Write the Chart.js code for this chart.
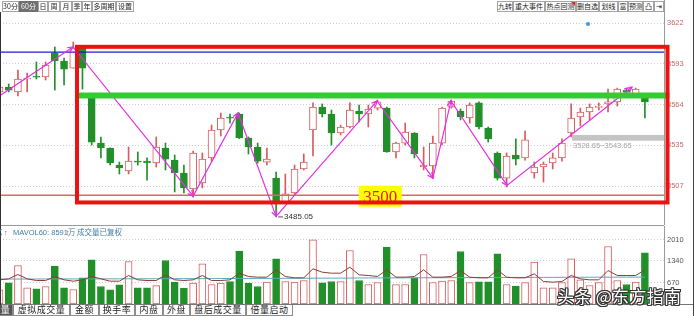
<!DOCTYPE html>
<html lang="zh-CN">
<head>
<meta charset="utf-8">
<title>60分 K线</title>
<script src="https://cdn.jsdelivr.net/npm/chart.js@4.4.1/dist/chart.umd.min.js"></script>
<style>
  html, body { margin:0; padding:0; background:#fff; }
  #stage { position:relative; width:695px; height:316px; overflow:hidden; background:#fff;
           font-family:"Noto Sans CJK SC","Liberation Sans",sans-serif; }
  #stage canvas { position:absolute; left:0; }
  #price { top:0; }
  #vol { top:226px; }
  .btn { position:absolute; top:1px; height:11px; box-sizing:border-box; border:1px solid #a3a3a3;
         background:#fff; color:#222; font-size:7px; line-height:9px; text-align:center;
         white-space:nowrap; overflow:hidden; }
  .btn.on { background:#707070; color:#fff; border-color:#707070; }
  .corner { position:absolute; top:0; right:0; width:0; height:0;
            border-top:4px solid #d22; border-left:4px solid transparent; }
  .tab { position:absolute; top:305px; height:11px; box-sizing:border-box; border:1px solid #8c8c8c;
         border-top:none; background:#fff; color:#222; font-size:9px; line-height:10px;
         text-align:center; letter-spacing:0.5px; white-space:nowrap; overflow:hidden; }
  .tab.on { background:#555; color:#fff; }
  .hline { position:absolute; height:1px; background:#9a9a9a; }
  .vline { position:absolute; width:1px; background:#9a9a9a; }
  #volhead { position:absolute; top:228px; left:0; height:10px; font-size:7.5px; line-height:10px;
             white-space:nowrap; font-family:"Liberation Sans","Noto Sans CJK SC",sans-serif; }
  #volhead span { position:absolute; top:0; }
  #mark { position:absolute; left:557px; top:286px; font-size:17px; line-height:20px; color:#fff;
          white-space:nowrap; letter-spacing:0.3px;
          text-shadow:1px 0 0 #333,-1px 0 0 #333,0 1px 0 #333,0 -1px 0 #333,
                      1px 1px 0 #333,-1px -1px 0 #333,1px -1px 0 #333,-1px 1px 0 #333; }
</style>
</head>
<body>
<div id="stage">
  <canvas id="price" width="695" height="225"></canvas>
  <canvas id="vol" width="695" height="78"></canvas>
  <div class="hline" style="left:0;top:225px;width:664px;"></div>
  <div class="hline" style="left:0;top:304px;width:694px;background:#777;"></div>
  <div class="vline" style="left:0;top:12px;height:293px;background:#333;"></div>
  <div class="vline" style="left:693px;top:0;height:316px;background:#444;"></div>
  <div id="toolbar"></div>
  <div id="volhead">
    <span style="left:-5px;color:#3f7fa8;">亿</span>
    <span style="left:4px;color:#e03030;">↑</span>
    <span style="left:13px;color:#3f7fa8;">MAVOL60: 8591万</span>
    <span style="left:66px;color:#e03030;">↑</span>
    <span style="left:77px;color:#3f7fa8;">成交量已复权</span>
  </div>
  <div id="tabs"></div>
  <div id="mark">头条 @东方指南</div>
</div>
<script>
// ---- 60-minute bars: open / high / low / close ----
const opens  = [3572.8,3576.3,3572.8,3582.0,3583.6,3583.4,3600.3,3594.7,3589.7,3603.9,
                3568.6,3536.8,3533.3,3521.3,3517.1,3523.6,3524.1,3522.7,3533.3,3524.8,
                3515.7,3504.4,3508.6,3526.3,3546.0,3554.7,3557.3,3540.4,3534.0,3523.4,
                3512.1,3495.2,3501.6,3518.5,3546.0,3562.2,3557.3,3543.9,3548.1,3559.4,
                3557.3,3561.5,3561.5,3530.5,3536.8,3543.9,3519.9,3520.6,3536.8,3562.2,
                3559.4,3554.5,3565.1,3547.4,3529.8,3512.1,3528.4,3526.3,3515.7,3519.9,
                3522.7,3526.3,3543.9,3555.2,3558.7,3562.0,3564.4,3565.8,3574.2,3571.4,
                3568.6];
const highs  = [3577.8,3578.5,3588.3,3586.2,3594.0,3594.0,3604.6,3596.8,3608.1,3604.2,
                3568.9,3541.1,3533.5,3523.4,3534.0,3530.5,3526.3,3541.1,3536.8,3528.4,
                3521.3,3531.2,3529.8,3549.5,3558.0,3557.3,3558.0,3541.1,3536.8,3533.3,
                3516.4,3515.0,3521.3,3529.1,3565.1,3564.4,3560.1,3549.5,3565.1,3563.6,
                3563.6,3567.2,3562.2,3537.5,3550.9,3544.2,3534.0,3541.8,3562.2,3567.2,
                3560.8,3565.1,3565.8,3548.1,3530.5,3529.8,3539.7,3545.3,3523.4,3523.4,
                3529.8,3539.7,3564.4,3561.5,3564.4,3565.1,3574.9,3575.6,3575.6,3575.6,
                3568.6];
const lows   = [3571.4,3572.8,3570.0,3572.8,3582.0,3581.3,3574.2,3577.8,3589.7,3574.9,
                3535.4,3526.3,3521.3,3515.0,3515.0,3521.3,3510.7,3519.9,3517.8,3502.3,
                3501.6,3498.7,3505.1,3524.1,3541.8,3550.9,3540.0,3529.1,3522.7,3521.3,
                3485.05,3494.5,3500.9,3517.8,3527.7,3555.2,3535.4,3542.5,3547.4,3551.7,
                3548.1,3560.1,3530.3,3526.3,3535.4,3526.3,3517.8,3512.1,3535.4,3561.5,
                3553.1,3550.9,3546.7,3537.5,3510.7,3505.8,3521.3,3524.8,3512.1,3509.3,
                3518.5,3524.1,3541.1,3548.8,3553.1,3560.1,3558.7,3562.9,3570.7,3569.3,
                3554.5];
const closes = [3576.3,3574.2,3582.0,3582.7,3583.2,3591.9,3594.7,3589.0,3603.9,3589.7,
                3537.5,3533.3,3522.7,3519.2,3524.1,3523.4,3522.7,3534.0,3525.5,3515.7,
                3505.1,3529.8,3525.5,3546.0,3554.5,3554.4,3540.4,3534.0,3524.1,3525.5,
                3495.2,3500.9,3518.5,3523.4,3562.2,3557.3,3543.9,3548.1,3560.1,3557.3,
                3560.8,3565.8,3530.5,3536.8,3544.6,3529.1,3521.3,3536.8,3561.5,3566.5,
                3555.2,3563.6,3548.1,3539.7,3512.1,3527.7,3525.5,3539.0,3519.9,3522.0,
                3526.3,3536.8,3554.5,3558.7,3562.2,3562.4,3565.8,3574.9,3572.8,3574.9,
                3565.8];

// ---- volume panel ----
const volumes = [442,660,1200,505,473,545,1178,505,452,816,
                 1377,545,442,598,1324,505,505,570,1355,680,
                 493,649,1252,608,649,701,1646,649,545,680,
                 1408,701,680,732,2000,660,701,701,1667,732,
                 608,670,1770,608,608,816,1542,670,711,732,
                 1636,670,690,690,1564,608,555,670,1303,505,
                 505,670,1408,754,577,670,1792,732,608,680,
                 1595];
const volMa   = [753,784,918,784,732,732,857,753,711,753,
                 857,784,711,711,888,753,732,732,908,753,
                 732,753,888,732,732,753,960,857,836,836,
                 1064,857,815,815,1096,991,960,960,1147,908,
                 888,857,1064,836,836,857,1064,836,836,857,
                 1043,836,815,815,1064,836,815,815,940,701,
                 680,701,888,784,753,753,1043,888,888,888,
                 1064];
const volMa60 = [776,776,777,777,778,779,779,780,781,781,
                 782,783,783,784,785,786,786,787,788,789,
                 790,790,791,792,793,794,795,796,797,798,
                 799,800,801,802,804,805,806,807,809,810,
                 811,812,813,814,815,816,817,818,819,820,
                 821,822,823,824,825,826,827,828,829,830,
                 830,831,832,833,834,835,835,836,837,837,
                 838];

// ---- axes ----
const priceTicks = [3506.5, 3535.25, 3564, 3592.75, 3621.5];
const volTicks   = [670, 1340, 2010];

// ---- drawn levels and swing path ----
const supportLevel = 3500;      // red level line and yellow tag
const pressureLevel = 3570.35;  // thick green line
const topLevel = 3601;          // blue line
const boxRange = { from: 8.405, to: 72.45, top: 3604.7, bottom: 3494.9 };
const zoneRange = { from: 62.1, low: 3538.5, high: 3542.5, text: '3528.65~3543.65', textAt: 3535.1 };
const swingIdx   = [0, 7.97, 21.0, 25.87, 30.0, 40.94, 47.0, 48.97, 55.04, 68.6];
const swingPrice = [3570.1, 3604.6, 3499.4, 3558.0, 3485.05, 3566.5, 3512.1, 3566.5, 3506.9, 3576.3];
const markerDot = { idx: 63.83, price: 3620.8 };

const GREEN = '#22902a', RED = '#d65c5c';
const up = closes.map((c, i) => c >= opens[i]);

// toolbar and tab row
const leftBtns  = [['30分',2,17],['60分',19,19,1],['日',38,10],['周',48,12],['月',60,12],['季',72,10],
                   ['年',82,10],['多周期',92,24],['设置',116,18]];
const rightBtns = [['九转',497,16],['重大事件',513,32],['热点回测',545,31,0,1],['删自选',576,23],
                   ['划线',599,19],['富',618,10],['预测',628,15],['凸',643,11],['⇥',654,10]];
const tabs = [['量',-2,15,1],['虚拟成交量',13,57],['金额',70,29],['换手率',99,36],['内盘',135,28],
              ['外盘',163,27],['盘后成交量',190,56],['倍量启动',246,47]];
const tb = document.getElementById('toolbar');
[...leftBtns, ...rightBtns].forEach(([t, l, w, on, corner]) => {
  const d = document.createElement('div');
  d.className = 'btn' + (on ? ' on' : '');
  d.style.left = l + 'px'; d.style.width = w + 'px'; d.textContent = t;
  if (corner) { const c = document.createElement('div'); c.className = 'corner'; d.appendChild(c); }
  tb.appendChild(d);
});
const tbar = document.getElementById('tabs');
tabs.forEach(([t, l, w, on]) => {
  const d = document.createElement('div');
  d.className = 'tab' + (on ? ' on' : '');
  d.style.left = l + 'px'; d.style.width = w + 'px'; d.textContent = t;
  tbar.appendChild(d);
});

const X_MIN = 0.054, X_MAX = 72.07;

function sideAxis(ticksList, fmt, color, min, max) {
  return {
    position: 'right', min, max,
    afterFit(s) { s.width = 31; s.paddingTop = 0; s.paddingBottom = 0; },
    afterBuildTicks(s) { s.ticks = ticksList.map(v => ({ value: v })); },
    ticks: { callback: fmt, color, padding: 3, font: { size: 7.5, family: 'Liberation Sans' } },
    grid: { color: '#cdcdcd', drawTicks: false, lineWidth: 1 },
    border: { display: true, color: '#9a9a9a', dash: [1, 2] }
  };
}

function arrowHead(ctx, x0, y0, x1, y1, len) {
  const a = Math.atan2(y1 - y0, x1 - x0), s = 0.45;
  ctx.beginPath();
  ctx.moveTo(x1 - len * Math.cos(a - s), y1 - len * Math.sin(a - s));
  ctx.lineTo(x1, y1);
  ctx.lineTo(x1 - len * Math.cos(a + s), y1 - len * Math.sin(a + s));
  ctx.stroke();
}

const priceOverlay = {
  id: 'priceOverlay',
  afterDraw(chart) {
    const { ctx, chartArea: a, scales: { x, y } } = chart;
    const X = v => x.getPixelForValue(v), Y = v => y.getPixelForValue(v);
    ctx.save();
    ctx.beginPath(); ctx.rect(a.left, a.top, a.right - a.left, a.bottom - a.top); ctx.clip();

    // blue top line and red 3500 line
    ctx.lineWidth = 1.3; ctx.strokeStyle = '#1c1cc8';
    ctx.beginPath(); ctx.moveTo(a.left, Y(topLevel)); ctx.lineTo(a.right, Y(topLevel)); ctx.stroke();
    ctx.lineWidth = 1.5; ctx.strokeStyle = '#e06464';
    ctx.beginPath(); ctx.moveTo(a.left, Y(supportLevel)); ctx.lineTo(a.right, Y(supportLevel)); ctx.stroke();

    // grey zone with its range text
    ctx.fillStyle = '#c4c4c4';
    ctx.fillRect(X(zoneRange.from), Y(zoneRange.high), a.right - X(zoneRange.from), Y(zoneRange.low) - Y(zoneRange.high));
    ctx.fillStyle = '#a8a8a8'; ctx.font = '7.5px "Liberation Sans"'; ctx.textBaseline = 'middle';
    ctx.fillText(zoneRange.text, X(zoneRange.from) + 1, Y(zoneRange.textAt));

    // swing path with arrow heads
    ctx.strokeStyle = '#e52ee5'; ctx.lineWidth = 1.2;
    ctx.beginPath();
    swingIdx.forEach((v, i) => { const px = X(v), py = Y(swingPrice[i]); i ? ctx.lineTo(px, py) : ctx.moveTo(px, py); });
    ctx.stroke();
    for (let i = 1; i < swingIdx.length; i++) {
      arrowHead(ctx, X(swingIdx[i - 1]), Y(swingPrice[i - 1]), X(swingIdx[i]), Y(swingPrice[i]), i === swingIdx.length - 1 ? 8 : 6);
    }

    // lowest-low tag
    let li = 0; lows.forEach((v, i) => { if (v < lows[li]) li = i; });
    const lx = X(li), ly = Y(lows[li]);
    ctx.strokeStyle = '#555'; ctx.lineWidth = 1;
    ctx.beginPath(); ctx.moveTo(lx + 2, ly + 0.5); ctx.lineTo(lx + 7, ly + 0.5); ctx.stroke();
    ctx.fillStyle = '#333'; ctx.font = '8px "Liberation Sans"'; ctx.textBaseline = 'middle';
    ctx.fillText(lows[li].toFixed(2), lx + 8, ly + 0.5);

    // marker dot
    ctx.fillStyle = '#3a9ad6';
    ctx.beginPath(); ctx.arc(X(markerDot.idx), Y(markerDot.price), 2, 0, Math.PI * 2); ctx.fill();

    // 3500 tag
    const tx = X(41.3), ty = Y(supportLevel) + 1;
    ctx.fillStyle = '#ffff00'; ctx.fillRect(tx - 21.5, ty - 10.5, 43, 21);
    ctx.fillStyle = '#e02222'; ctx.font = '17px "Liberation Serif"';
    ctx.textAlign = 'center'; ctx.textBaseline = 'middle';
    ctx.fillText(String(supportLevel), tx, ty + 1);
    ctx.restore();

    // thick green level and red frame (reach past the plot edge)
    ctx.save();
    ctx.fillStyle = '#33cc33';
    ctx.fillRect(X(boxRange.from) - 1, Y(pressureLevel) - 3, X(boxRange.to) + 3 - X(boxRange.from), 6);
    ctx.strokeStyle = '#ee1111'; ctx.lineWidth = 4;
    ctx.strokeRect(X(boxRange.from), Y(boxRange.top), X(boxRange.to) - X(boxRange.from), Y(boxRange.bottom) - Y(boxRange.top));
    ctx.restore();
  }
};

const xAxis = { type: 'linear', display: false, offset: false, min: X_MIN, max: X_MAX };

new Chart(document.getElementById('price'), {
  type: 'bar',
  data: {
    datasets: [
      { // candle bodies
        data: opens.map((o, i) => ({ x: i, y: [o, closes[i]] })),
        backgroundColor: up.map(u => u ? '#ffffff' : GREEN),
        borderColor: up.map(u => u ? RED : GREEN),
        borderWidth: 1, borderSkipped: false, barThickness: 7, minBarLength: 1,
        grouped: false, order: 0
      },
      { // wicks
        data: lows.map((l, i) => ({ x: i, y: [l, highs[i]] })),
        backgroundColor: up.map(u => u ? RED : GREEN),
        borderWidth: 0, barThickness: 1, grouped: false, order: 1
      }
    ]
  },
  options: {
    responsive: false, animation: false, events: [],
    layout: { padding: 0 },
    plugins: { legend: { display: false }, tooltip: { enabled: false } },
    scales: {
      x: xAxis,
      y: sideAxis(priceTicks, v => String(Math.round(v)), '#c46a6a', 3478.99, 3637.73)
    }
  },
  plugins: [priceOverlay]
});

new Chart(document.getElementById('vol'), {
  type: 'bar',
  data: {
    datasets: [
      { type: 'line', data: volMa.map((v, i) => ({ x: i, y: v })), borderColor: '#8e3a3a',
        borderWidth: 1, pointRadius: 0, tension: 0, order: 0 },
      { type: 'line', data: volMa60.map((v, i) => ({ x: i, y: v })), borderColor: '#5aa8b8',
        borderWidth: 1, pointRadius: 0, tension: 0, order: 1 },
      { data: volumes.map((v, i) => ({ x: i, y: v })),
        backgroundColor: up.map(u => u ? '#ffffff' : GREEN),
        borderColor: up.map(u => u ? RED : GREEN),
        borderWidth: 1, borderSkipped: false, barThickness: 7, grouped: false, order: 2 }
    ]
  },
  options: {
    responsive: false, animation: false, events: [],
    layout: { padding: 0 },
    plugins: { legend: { display: false }, tooltip: { enabled: false } },
    scales: {
      x: xAxis,
      y: sideAxis(volTicks, v => String(v), '#555', 0, 2430)
    }
  }
});
</script>
</body>
</html>
